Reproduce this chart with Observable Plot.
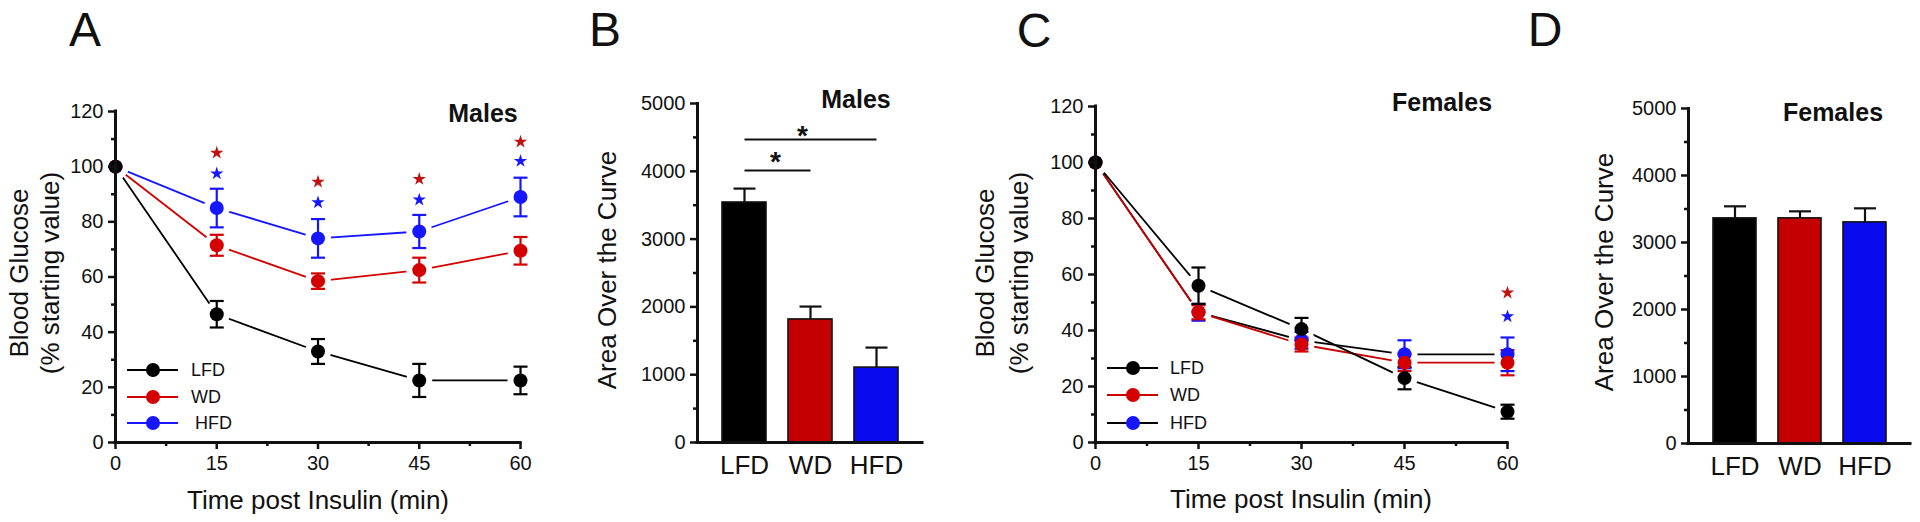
<!DOCTYPE html>
<html><head><meta charset="utf-8">
<script src="https://cdn.jsdelivr.net/npm/d3@7"></script>
<script src="https://cdn.jsdelivr.net/npm/@observablehq/plot@0.6"></script>
<style>
html,body{margin:0;padding:0;background:#fff;}
#fig{position:relative;width:1920px;height:522px;overflow:hidden;font-family:"Liberation Sans",Arial,Helvetica,sans-serif;color:#111;}
.t{position:absolute;white-space:nowrap;transform:translate(-50%,-50%);line-height:1;}
.t.r{transform:translate(-50%,-50%) rotate(-90deg);}
</style></head><body><div id="fig"></div>
<script>
// ---------------- data ----------------
const groups = ["LFD", "WD", "HFD"];
const timePoints = [0, 15, 30, 45, 60];

const maleLFD = [100, 46.5, 33, 22.5, 22.5];
const maleLFDSem = [0, 4.8, 4.5, 6, 5];
const maleWD = [100, 71.5, 58.5, 62.5, 69.5];
const maleWDSem = [0, 3.8, 2.8, 4.5, 5];
const maleHFD = [100, 85, 74, 76.5, 89];
const maleHFDSem = [0, 7, 7, 6, 7];

const femaleLFD = [100, 56, 40.5, 23, 11];
const femaleLFDSem = [0, 6.5, 4, 4, 2.5];
const femaleWD = [100, 46.5, 35, 28.5, 28.5];
const femaleWDSem = [0, 2.5, 2.5, 3, 4.5];
const femaleHFD = [100, 46.5, 36.5, 31.5, 31.5];
const femaleHFDSem = [0, 3, 3, 5, 6];

const maleStarTimes = [15, 30, 45, 60];
const maleStarWD = [105, 94.5, 95.5, 109];
const maleStarHFD = [97.5, 87, 88, 102];
const femaleStarTimes = [60];
const femaleStarWD = [53.5];
const femaleStarHFD = [45];

const maleAOC = [3540, 1815, 1105];
const maleAOCSem = [205, 190, 295];
const femaleAOC = [3360, 3360, 3300];
const femaleAOCSem = [180, 105, 210];

const sigFrom = ["LFD", "LFD"];
const sigTo = ["WD", "HFD"];
const sigY = [4010, 4470];
const sigStarY = [4235, 4630];

const glucoseTicks = [0, 20, 40, 60, 80, 100, 120];
const glucoseMinor = [10, 30, 50, 70, 90, 110];
const timeTicks = [0, 15, 30, 45, 60];
const timeMinor = [7.5, 22.5, 37.5, 52.5];
const aocTicks = [0, 1000, 2000, 3000, 4000, 5000];
const aocMinor = [500, 1500, 2500, 3500, 4500];

// ---------------- styles ----------------
const FONT = '"Liberation Sans", Arial, Helvetica, sans-serif';
const RED = "#d40000", BLUE = "#1616ff", INK = "#111";
const dotColors = {LFD: "#000", WD: RED, HFD: BLUE};
const maleLineColors = {LFD: "#000", WD: RED, HFD: BLUE};
const femaleLineColors = {LFD: "#000", WD: "#c80000", HFD: "#000"};
const barColors = {LFD: "#000", WD: "#c40000", HFD: "#0a0aee"};
const drawOrder = {HFD: 0, WD: 1, LFD: 2};

const capSymbol = {draw(ctx, size) { const w = Math.sqrt(size / Math.PI); ctx.moveTo(-w, 0); ctx.lineTo(w, 0); }};

function seriesRows(vals, sems) {
  return groups.flatMap((g, gi) => timePoints.map((t, i) => ({g, t, v: vals[gi][i], e: sems[gi][i]})))
    .sort((a, b) => drawOrder[a.g] - drawOrder[b.g]);
}
const maleRows = seriesRows([maleLFD, maleWD, maleHFD], [maleLFDSem, maleWDSem, maleHFDSem]);
const femaleRows = seriesRows([femaleLFD, femaleWD, femaleHFD], [femaleLFDSem, femaleWDSem, femaleHFDSem]);
const maleStars = maleStarTimes.flatMap((t, i) => [{t, v: maleStarWD[i], g: "WD"}, {t, v: maleStarHFD[i], g: "HFD"}]);
const femaleStars = femaleStarTimes.flatMap((t, i) => [{t, v: femaleStarWD[i], g: "WD"}, {t, v: femaleStarHFD[i], g: "HFD"}]);
const maleBars = groups.map((g, i) => ({g, v: maleAOC[i], e: maleAOCSem[i]}));
const femaleBars = groups.map((g, i) => ({g, v: femaleAOC[i], e: femaleAOCSem[i]}));
const sigRows = sigFrom.map((f, i) => ({from: f, to: sigTo[i], y: sigY[i], sy: sigStarY[i]}));

const fig = document.getElementById("fig");
const baseStyle = {fontFamily: FONT, fontSize: "20px", color: INK, background: "transparent", overflow: "visible"};

function place(svg, left) {
  svg.style.position = "absolute";
  svg.style.left = left + "px";
  svg.style.top = "0px";
  fig.appendChild(svg);
}

function yAxes(major, minor) {
  return [
    Plot.axisY(major, {tickSize: 7, tickPadding: 5, fontSize: 20, strokeWidth: 2.5, stroke: INK, label: null, tickFormat: d => String(d)}),
    Plot.axisY(minor, {tickSize: 4, strokeWidth: 2.5, stroke: INK, label: null, tickFormat: () => ""})
  ];
}

function linePanel(rows, stars, lineColors, left, width, m) {
  const errs = rows.filter(d => d.e > 0);
  const svg = Plot.plot({
    width, height: 522,
    marginLeft: m[0], marginRight: m[1], marginTop: m[2], marginBottom: m[3],
    x: {domain: [0, 60], label: null},
    y: {domain: [0, 120], label: null},
    color: {type: "identity"},
    style: baseStyle,
    marks: [
      Plot.line(rows, {x: "t", y: "v", z: "g", stroke: d => lineColors[d.g], strokeWidth: 1.8}),
      Plot.dot(rows, {x: "t", y: "v", r: 13, fill: "white"}),
      Plot.ruleX(errs, {x: "t", y1: d => d.v - d.e, y2: d => d.v + d.e, stroke: d => dotColors[d.g], strokeWidth: 2.2}),
      Plot.dot(errs, {x: "t", y: d => d.v + d.e, symbol: capSymbol, r: 7, fill: "none", stroke: d => dotColors[d.g], strokeWidth: 2.2}),
      Plot.dot(errs, {x: "t", y: d => d.v - d.e, symbol: capSymbol, r: 7, fill: "none", stroke: d => dotColors[d.g], strokeWidth: 2.2}),
      Plot.dot(rows, {x: "t", y: "v", r: 7, fill: d => dotColors[d.g], stroke: "none"}),
      Plot.dot(stars, {x: "t", y: "v", symbol: "star", r: 4.2, fill: d => d.g === "WD" ? "#c01010" : BLUE, stroke: "none"}),
      ...yAxes(glucoseTicks, glucoseMinor),
      Plot.axisX(timeTicks, {tickSize: 7, tickPadding: 6, fontSize: 20, strokeWidth: 2.5, stroke: INK, label: null}),
      Plot.axisX(timeMinor, {tickSize: 4, strokeWidth: 2.5, stroke: INK, label: null, tickFormat: () => ""}),
      Plot.ruleX([0], {stroke: INK, strokeWidth: 3, strokeLinecap: "square"}),
      Plot.ruleY([0], {stroke: INK, strokeWidth: 3, strokeLinecap: "square"})
    ]
  });
  place(svg, left);
}

function barPanel(bars, sig, left, width, m) {
  const marks = [
    Plot.barY(bars, {x: "g", y: "v", fill: d => barColors[d.g], stroke: INK, strokeWidth: 1.6}),
    Plot.ruleX(bars, {x: "g", y1: "v", y2: d => d.v + d.e, stroke: INK, strokeWidth: 2.2}),
    Plot.dot(bars, {x: "g", y: d => d.v + d.e, symbol: capSymbol, r: 11, fill: "none", stroke: INK, strokeWidth: 2.2}),
    ...yAxes(aocTicks, aocMinor),
    Plot.axisX({tickSize: 0, tickPadding: 13, fontSize: 26, label: null}),
    Plot.ruleY([0], {stroke: INK, strokeWidth: 3, strokeLinecap: "square"}),
    Plot.frame({anchor: "left", stroke: INK, strokeWidth: 3})
  ];
  if (sig) {
    marks.push(
      Plot.link(sig, {x1: "from", x2: "to", y1: "y", y2: "y", stroke: INK, strokeWidth: 2}),
      Plot.text(sig.slice(0, 1), {x: "from", y: "sy", text: () => "*", fontSize: 28, fontWeight: "bold", dx: 31, dy: 7, fill: INK}),
      Plot.text(sig.slice(1, 2), {x: "to", y: "sy", text: () => "*", fontSize: 28, fontWeight: "bold", dx: -74, dy: 7, fill: INK})
    );
  }
  const svg = Plot.plot({
    width, height: 522,
    marginLeft: m[0], marginRight: m[1], marginTop: m[2], marginBottom: m[3],
    x: {domain: groups, paddingInner: 0.34, paddingOuter: 0.36, label: null},
    y: {domain: [0, 5000], label: null},
    color: {type: "identity"},
    style: baseStyle,
    marks
  });
  place(svg, left);
}

linePanel(maleRows, maleStars, maleLineColors, 0, 540, [115, 20, 111, 80]);
barPanel(maleBars, sigRows, 560, 380, [137, 18, 103, 80]);
linePanel(femaleRows, femaleStars, femaleLineColors, 980, 560, [115, 33, 106, 80]);
barPanel(femaleBars, null, 1560, 360, [128, 10, 108, 79]);

// ---------------- text ----------------
function addText(txt, x, y, size, opts = {}) {
  const d = document.createElement("div");
  d.className = "t" + (opts.rotate ? " r" : "");
  d.textContent = txt;
  d.style.left = x + "px";
  d.style.top = y + "px";
  d.style.fontSize = size + "px";
  if (opts.bold) d.style.fontWeight = "bold";
  fig.appendChild(d);
}
addText("A", 85, 30, 48);
addText("B", 605, 30, 48);
addText("C", 1034, 31, 48);
addText("D", 1545, 30, 48);
addText("Males", 483, 113, 25, {bold: true});
addText("Males", 856, 99, 25, {bold: true});
addText("Females", 1442, 102, 25, {bold: true});
addText("Females", 1833, 112, 25, {bold: true});
addText("Time post Insulin (min)", 318, 500, 26);
addText("Time post Insulin (min)", 1301, 499, 26);
addText("Blood Glucose", 19, 273, 26, {rotate: true});
addText("(% starting value)", 50, 273, 26, {rotate: true});
addText("Blood Glucose", 985, 273, 26, {rotate: true});
addText("(% starting value)", 1019, 273, 26, {rotate: true});
addText("Area Over the Curve", 607, 270, 26, {rotate: true});
addText("Area Over the Curve", 1604, 272, 26, {rotate: true});

// ---------------- legends ----------------
const legendSvg = d3.select(fig).append("svg")
  .attr("width", 1920).attr("height", 522)
  .style("position", "absolute").style("left", "0px").style("top", "0px")
  .style("font-family", FONT);
function legend(x0, rowY, lineColors, textX) {
  groups.forEach((g, i) => {
    const y = rowY[i];
    legendSvg.append("line").attr("x1", x0).attr("x2", x0 + 51).attr("y1", y).attr("y2", y)
      .attr("stroke", lineColors[g]).attr("stroke-width", 2);
    legendSvg.append("circle").attr("cx", x0 + 26).attr("cy", y).attr("r", 7).attr("fill", dotColors[g]);
    legendSvg.append("text").attr("x", textX + (g === "HFD" && x0 < 500 ? 4 : 0)).attr("y", y).attr("dy", "0.36em")
      .attr("font-size", 18).attr("fill", INK).text(g);
  });
}
legend(127, [370, 397, 423], maleLineColors, 191);
legend(1107, [368, 395, 423], femaleLineColors, 1170);
</script></body></html>
